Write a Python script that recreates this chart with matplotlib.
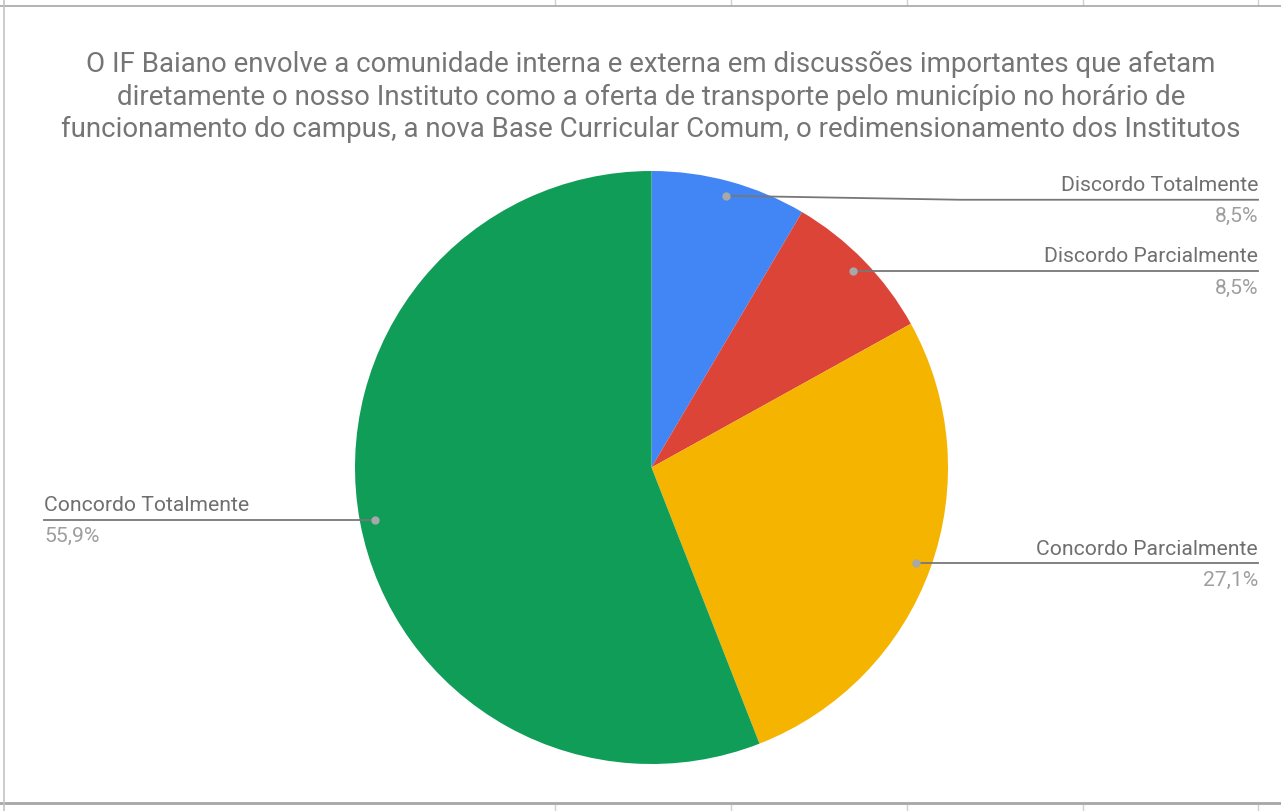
import numpy as np
import matplotlib
matplotlib.use("Agg")
import matplotlib.pyplot as plt
from matplotlib.lines import Line2D

plt.rcParams['font.family'] = ['Roboto', 'DejaVu Sans']

# data
categories = ['Discordo Totalmente', 'Discordo Parcialmente',
              'Concordo Parcialmente', 'Concordo Totalmente']
counts = [5, 5, 16, 33]
colors = ['#4285F4', '#DB4437', '#F4B400', '#0F9D58']
title = ('O IF Baiano envolve a comunidade interna e externa em discussões importantes que afetam\n'
         'diretamente o nosso Instituto como a oferta de transporte pelo município no horário de\n'
         'funcionamento do campus, a nova Base Curricular Comum, o redimensionamento dos Institutos')

W, H = 1281, 811
fig = plt.figure(figsize=(W / 100, H / 100), dpi=100)
ax = fig.add_axes([0, 0, 1, 1])

# pie in pixel-like data units (y up)
cx, cy, R = 651.5, H - 467.5, 296.5
wedges, _ = ax.pie(counts, colors=colors, startangle=90, counterclock=False,
                   center=(cx, cy), radius=R, wedgeprops=dict(linewidth=0))
ax.set_xlim(0, W)
ax.set_ylim(0, H)
ax.set_aspect('auto')
ax.axis('off')

total = sum(counts)
line_shift = [-4, 0, 0, 0]   # small vertical nudge of the label line
text_col = '#6f6f6f'
pct_col = '#9e9e9e'
for w, name, n, sh in zip(wedges, categories, counts, line_shift):
    mid = np.deg2rad((w.theta1 + w.theta2) / 2)
    dx, dy = cx + 0.95 * R * np.cos(mid), cy + 0.95 * R * np.sin(mid)
    ly = dy + sh
    pct = f'{100 * n / total:.1f}%'.replace('.', ',')
    if np.cos(mid) >= 0:
        xe = 1258
        if sh != 0:
            xs = [dx, 960, xe]
            ys = [dy, ly, ly]
        else:
            xs = [dx, xe]
            ys = [ly, ly]
        ha = 'right'
    else:
        xe = 44
        xs = [dx, xe]
        ys = [ly, ly]
        ha = 'left'
    ax.add_line(Line2D(xs, ys, color='#777777', lw=1.3))
    ax.plot([dx], [dy], 'o', color='#a8a8a8', ms=5, zorder=5)
    ax.text(xe, ly + 14, name, ha=ha, va='center', fontsize=15.2, color=text_col)
    ax.text(xe, ly - 17, pct, ha=ha, va='center', fontsize=15.2, color=pct_col)

fig.text(651 / W, 1 - 97 / H, title, ha='center', va='center', fontsize=19.9,
         color='#757575', linespacing=1.25)

# spreadsheet grid around the chart
for x in [555, 731, 907, 1083, 1258]:
    ax.add_line(Line2D([x, x], [H, H - 5], color='#d0d0d0', lw=1))
    ax.add_line(Line2D([x, x], [0, 6], color='#d0d0d0', lw=1))
ax.add_line(Line2D([0, W], [H - 5.5, H - 5.5], color='#a6a6a6', lw=1.2))
ax.add_line(Line2D([0, W], [H - 803, H - 803], color='#a6a6a6', lw=2))
ax.add_line(Line2D([3.5, 3.5], [0, H], color='#c4c4c4', lw=1.2))

fig.savefig('out.png', dpi=100)
